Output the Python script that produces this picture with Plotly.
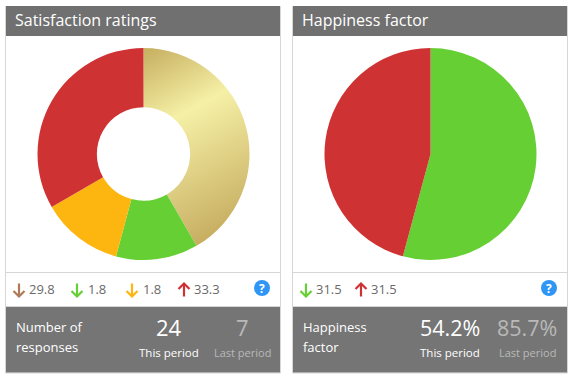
import plotly.graph_objects as go

W, H = 573, 379
FONT = "Open Sans"

# Data
sat_labels = ["Very satisfied", "Satisfied", "Neutral", "Dissatisfied"]
sat_values = [10, 3, 3, 8]
sat_colors = ["#e3d48a", "#66cf33", "#fdb50f", "#cf3232"]
sat_changes = ["29.8", "1.8", "1.8", "33.3"]
hap_labels = ["Happy", "Unhappy"]
hap_values = [54.2, 45.8]
hap_colors = ["#66cf33", "#cf3232"]
hap_changes = ["31.5", "31.5"]
card_titles = ["Satisfaction ratings", "Happiness factor"]
responses = ["24", "7"]
happiness = ["54.2%", "85.7%"]

X = lambda v: v / W
Y = lambda v: 1 - v / H
shapes, notes = [], []


def rect(x0, y0, x1, y1, fill, line=None):
    shapes.append(dict(type="rect", xref="paper", yref="paper", x0=X(x0), x1=X(x1), y0=Y(y0), y1=Y(y1),
                       fillcolor=fill, line=dict(color=line or fill, width=1 if line else 0), layer="below"))


def text(x, y, s, size, color="#ffffff", anchor="left", weight=400):
    notes.append(dict(xref="paper", yref="paper", x=X(x), y=Y(y), text=s, showarrow=False,
                      xanchor=anchor, yanchor="middle", borderpad=0,
                      font=dict(family=FONT, size=size, color=color, weight=weight)))


def arrow(cx, up, color):
    top, bot = 283.5, 296.5
    if up:
        d = [(cx, bot), (cx, top)], [(cx - 5.5, top + 5.5), (cx, top), (cx + 5.5, top + 5.5)]
    else:
        d = [(cx, top), (cx, bot)], [(cx - 5.5, bot - 5.5), (cx, bot), (cx + 5.5, bot - 5.5)]
    for pts in d:
        p = "M" + " L".join(f"{X(a):.5f},{Y(b):.5f}" for a, b in pts)
        shapes.append(dict(type="path", xref="paper", yref="paper", path=p, line=dict(color=color, width=2.2)))


def card(x0, title, lab1, lab2):
    x1 = x0 + 276
    rect(x0 + .5, 6.5, x1 - .5, 373, "#ffffff", "#d6d6d6")
    rect(x0 + 1, 6, x1 - 1, 36, "#707070")
    rect(x0 + 1, 307, x1 - 1, 372.5, "#757575")
    shapes.append(dict(type="line", xref="paper", yref="paper", x0=X(x0), x1=X(x1), y0=Y(272.5), y1=Y(272.5),
                       line=dict(color="#d6d6d6", width=1)))
    shapes.append(dict(type="line", xref="paper", yref="paper", x0=X(x0), x1=X(x1), y0=Y(306.5), y1=Y(306.5),
                       line=dict(color="#d6d6d6", width=1)))
    text(x0 + 9, 20, title, 16)
    text(x0 + 10, 327, lab1, 13)
    text(x0 + 10, 347, lab2, 13)


card(5, card_titles[0], "Number of", "responses")
card(292, card_titles[1], "Happiness", "factor")

# Change row, left
for cx, tx, col, up, val in zip([19, 77, 132, 184], [28, 87, 142, 193],
                                ["#b07a58", "#66cf33", "#fdb50f", "#cf3232"],
                                [False, False, False, True], sat_changes):
    arrow(cx, up, col)
    text(tx, 289, val, 13, "#6a6a6a")
# Change row, right
for cx, tx, col, up, val in zip([306, 361], [315, 370], ["#66cf33", "#cf3232"], [False, True], hap_changes):
    arrow(cx, up, col)
    text(tx, 289, val, 13, "#6a6a6a")

# Help icons
for cx in [262, 549]:
    shapes.append(dict(type="circle", xref="paper", yref="paper", x0=X(cx - 8), x1=X(cx + 8), y0=Y(296), y1=Y(280),
                       fillcolor="#2f96f5", line=dict(width=0)))
    text(cx, 288, "<b>?</b>", 12, "#ffffff", "center")

# Stats
text(169, 327, responses[0], 22, "#ffffff", "center")
text(242, 327, responses[1], 22, "#b9b9b9", "center")
text(450, 327, happiness[0], 21.5, "#ffffff", "center")
text(527, 327, happiness[1], 21.5, "#b9b9b9", "center")
for cx_this, cx_last in [(169, 242), (450, 527)]:
    text(cx_this, 352, "This period", 11.5, "#ffffff", "center")
    text(cx_last, 352, "Last period", 11, "#b9b9b9", "center")


def dom(cx, cy, r):
    return dict(x=[X(cx - r), X(cx + r)], y=[Y(cy + r), Y(cy - r)])


fig = go.Figure()
fig.add_trace(go.Pie(labels=sat_labels, values=sat_values, hole=0.44, sort=False, direction="clockwise", rotation=0,
                     marker=dict(colors=sat_colors, line=dict(width=0)), textinfo="none", hoverinfo="skip",
                     showlegend=False, domain=dom(143.5, 154, 106)))
fig.add_trace(go.Pie(labels=hap_labels, values=hap_values, sort=False, direction="clockwise", rotation=0,
                     marker=dict(colors=hap_colors, line=dict(width=0)), textinfo="none", hoverinfo="skip",
                     showlegend=False, domain=dom(430.5, 154, 106)))
fig.update_layout(width=W, height=H, margin=dict(l=0, r=0, t=0, b=0), paper_bgcolor="#ffffff",
                  shapes=shapes, annotations=notes, showlegend=False, font=dict(family=FONT))

post = """
document.body.style.margin = '0';
document.body.style.overflow = 'hidden';
var gd = document.getElementById('{plot_id}');
var svg = gd.querySelector('svg.main-svg');
var ns = 'http://www.w3.org/2000/svg';
var defs = svg.querySelector('defs') || svg.insertBefore(document.createElementNS(ns, 'defs'), svg.firstChild);
var g = document.createElementNS(ns, 'linearGradient');
g.setAttribute('id', 'goldgrad');
g.setAttribute('gradientUnits', 'userSpaceOnUse');
g.setAttribute('x1', '150'); g.setAttribute('y1', '50');
g.setAttribute('x2', '245'); g.setAttribute('y2', '225');
[[0, '#c9b263'], [0.36, '#f5f0a6'], [1, '#c5ab5e']].forEach(function (s) {
  var st = document.createElementNS(ns, 'stop');
  st.setAttribute('offset', s[0]); st.setAttribute('stop-color', s[1]);
  g.appendChild(st);
});
defs.appendChild(g);
var p = gd.querySelector('.trace .slice path.surface');
p.style.fill = 'url(#goldgrad)';
"""
fig.write_html("out.html", post_script=post, config=dict(displayModeBar=False))
